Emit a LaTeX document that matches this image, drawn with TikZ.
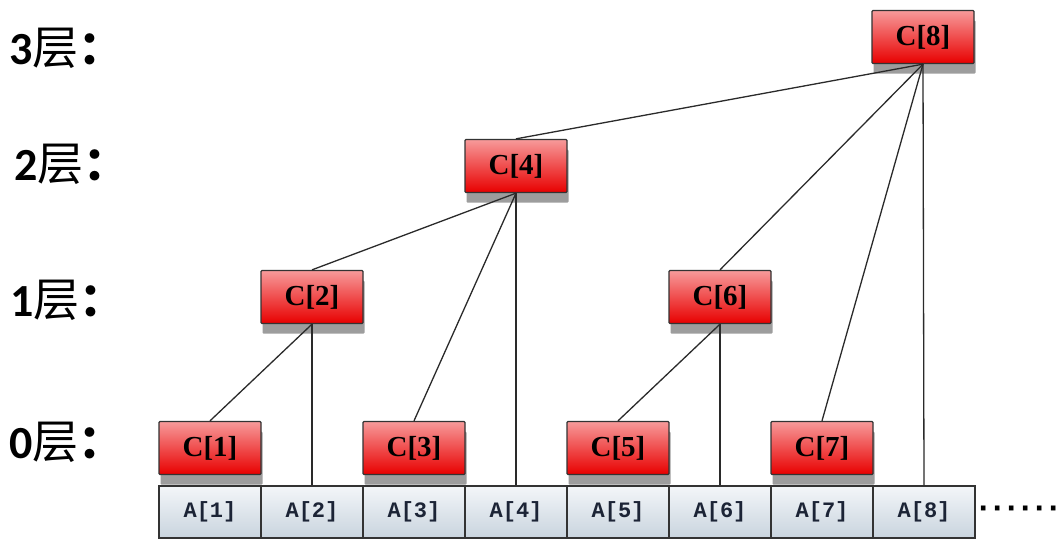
\documentclass[tikz,border=0pt]{standalone}
\usepackage{fontspec}
\usetikzlibrary{shadows}
\newfontfamily\numfont{Carlito}
\newfontfamily\cjk{Noto Sans CJK SC}
\newfontfamily\monofnt{Liberation Mono}
\newfontfamily\serfnt{Liberation Serif}
\newfontfamily\dotfont{DejaVu Sans}
\definecolor{linegray}{HTML}{2A2A2A}
\definecolor{boxborder}{HTML}{333333}
\definecolor{cpink}{HTML}{F79A9A}
\definecolor{cred}{HTML}{FF0505}
\definecolor{cdark}{HTML}{E80000}
\definecolor{atop}{HTML}{F3F6F9}
\definecolor{abot}{HTML}{C9D4DE}
\definecolor{atext}{HTML}{1C2436}
\pgfdeclarelayer{fg}
\pgfsetlayers{main,fg}
\newcommand\onedot{\makebox[14pt]{·}}
\tikzset{
  cbox/.style={draw=boxborder, line width=1.3pt, rounded corners=1pt,
    minimum width=102pt, minimum height=53pt, inner sep=0pt,
    top color=cpink, middle color=cred, bottom color=cdark,
    drop shadow={shadow xshift=1.5pt, shadow yshift=-10pt, fill=black!55, opacity=0.7},
    font=\serfnt\bfseries\fontsize{29}{29}\selectfont, text=black},
  abox/.style={draw=boxborder, line width=1.2pt,
    minimum width=102pt, minimum height=52pt, inner sep=0pt,
    top color=atop, bottom color=abot,
    font=\monofnt\bfseries\fontsize{22}{22}\selectfont, text=atext},
  conn/.style={draw=linegray, line width=1.3pt},
  lvl/.style={anchor=west, inner sep=0pt, font=\fontsize{46}{50}\selectfont}
}
\begin{document}
\begin{tikzpicture}[x=1pt,y=-1pt]
\useasboundingbox (0,0) rectangle (1061,542);
% level labels
\node[lvl] (l3) at (9,48) {{\numfont\bfseries 3}{\cjk 层}{\cjk\bfseries ：}};
\node[lvl] (l2) at (14,164) {{\numfont\bfseries 2}{\cjk 层}{\cjk\bfseries ：}};
\node[lvl] (l1) at (10,300) {{\numfont\bfseries 1}{\cjk 层}{\cjk\bfseries ：}};
\node[lvl] (l0) at (9,442) {{\numfont\bfseries 0}{\cjk 层}{\cjk\bfseries ：}};
% A array
\foreach \k in {1,...,8} {
  \node[abox] (a\k) at ({210+102*(\k-1)},512) {A[\k]};
}
\node[anchor=west, inner sep=0pt, font=\dotfont\bfseries\fontsize{26}{26}\selectfont] (dots) at (976,512) {\onedot\onedot\onedot\onedot\onedot\onedot};
% C nodes
\node[cbox] (c1) at (210,448) {C[1]};
\node[cbox] (c3) at (414,448) {C[3]};
\node[cbox] (c5) at (618,448) {C[5]};
\node[cbox] (c7) at (822,448) {C[7]};
\node[cbox] (c2) at (312,297) {C[2]};
\node[cbox] (c6) at (720,297) {C[6]};
\node[cbox] (c4) at (516,166) {C[4]};
\node[cbox] (c8) at (923,37) {C[8]};
% connectors
\begin{pgfonlayer}{fg}
\draw[conn] (c2.south) -- (c1.north);
\draw[conn] (c2.south) -- (a2.north);
\draw[conn] (c6.south) -- (c5.north);
\draw[conn] (c6.south) -- (a6.north);
\draw[conn] (c4.south) -- (c2.north);
\draw[conn] (c4.south) -- (c3.north);
\draw[conn] (c4.south) -- (a4.north);
\draw[conn] (c8.south) -- (c4.north);
\draw[conn] (c8.south) -- (c6.north);
\draw[conn] (c8.south) -- (c7.north);
\draw[conn] (c8.south) -- (a8.north);
\end{pgfonlayer}
\end{tikzpicture}
\end{document}
